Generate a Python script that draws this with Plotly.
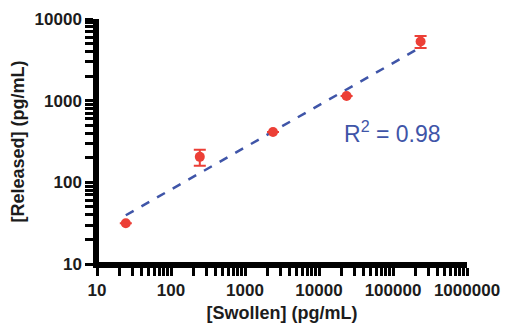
import plotly.graph_objects as go

# Data
swollen = [24.5, 245, 2390, 23600, 236000]
released = [31.5, 205, 413, 1140, 5300]
released_err = [0, 45, 0, 0, 900]

fit_x = [24.5, 236000]
fit_y = [39.5, 4500]

x_major = [10, 100, 1000, 10000, 100000, 1000000]
x_major_text = ["10", "100", "1000", "10000", "100000", "1000000"]
y_major = [10, 100, 1000, 10000]
y_major_text = ["10", "100", "1000", "10000"]

x_minor = [m * d for d in [10, 100, 1000, 10000, 100000] for m in range(2, 10)]
y_minor = [m * d for d in [10, 100, 1000] for m in range(2, 10)]

x_tickvals = x_major + x_minor
x_ticktext = x_major_text + [""] * len(x_minor)
y_tickvals = y_major + y_minor
y_ticktext = y_major_text + [""] * len(y_minor)

red = "#EC3F36"
blue = "#3F55A8"
dark = "#1c1c1c"
font_family = "Liberation Sans, Arial, sans-serif"

fig = go.Figure()
fig.add_trace(go.Scatter(
    x=fit_x, y=fit_y, mode="lines",
    line=dict(color=blue, width=2.5, dash="dash"),
    showlegend=False, hoverinfo="skip"))
fig.add_trace(go.Scatter(
    x=swollen, y=released, mode="markers",
    marker=dict(color=red, size=10),
    error_y=dict(type="data", array=released_err, visible=True,
                 color=red, thickness=2, width=6),
    showlegend=False))

fig.add_annotation(x=4.99, y=2.62, xref="x", yref="y",
                   text="R<sup>2</sup> = 0.98", showarrow=False,
                   font=dict(family=font_family, size=23, color=blue))

# axis frame lines (bottom and left edges of the plot area)
fig.add_shape(type="line", xref="paper", yref="paper", x0=0, x1=1, y0=0, y1=0,
              line=dict(color="#000000", width=4), layer="above")
fig.add_shape(type="line", xref="paper", yref="paper", x0=0, x1=0, y0=0, y1=1,
              line=dict(color="#000000", width=4), layer="above")

tickfont = dict(family=font_family, size=17, color=dark, weight="bold")
titlefont = dict(family=font_family, size=18, color=dark, weight="bold")

axis_common = dict(
    type="log", showgrid=False, zeroline=False,
    showline=True, linecolor="#000000", linewidth=3.5,
    ticks="outside", ticklen=8, tickwidth=2.5, tickcolor="#000000",
    tickmode="array", tickfont=tickfont,
)

fig.update_xaxes(**axis_common, range=[1, 6], tickvals=x_tickvals, ticktext=x_ticktext,
                 title=dict(text="[Swollen] (pg/mL)", standoff=8, font=titlefont))
fig.update_yaxes(**axis_common, range=[1, 4], tickvals=y_tickvals, ticktext=y_ticktext,
                 title=dict(text="[Released] (pg/mL)", standoff=6, font=titlefont))

fig.update_layout(
    width=505, height=327,
    margin=dict(l=97, r=38, t=19, b=63, autoexpand=False),
    paper_bgcolor="white", plot_bgcolor="white",
)
fig.write_html("out.html")
